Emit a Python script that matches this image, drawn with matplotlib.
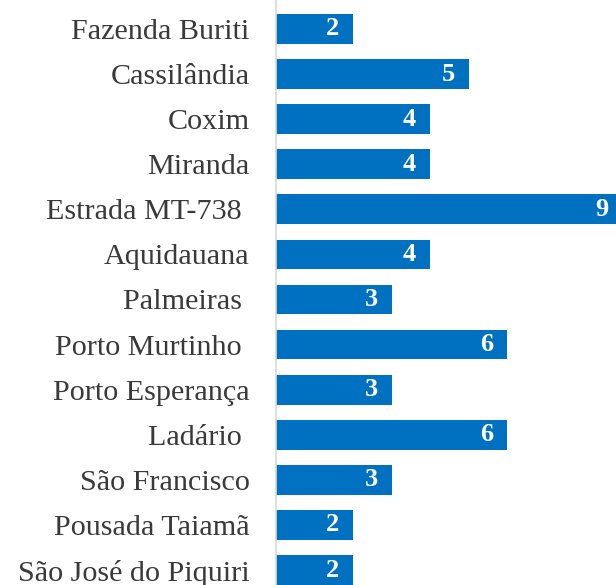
import matplotlib.pyplot as plt

locais = [
    "Fazenda Buriti", "Cassilândia", "Coxim", "Miranda", "Estrada MT-738 ",
    "Aquidauana", "Palmeiras ", "Porto Murtinho ", "Porto Esperança",
    "Ladário ", "São Francisco", "Pousada Taiamã", "São José do Piquiri",
]
valores = [2, 5, 4, 4, 9, 4, 3, 6, 3, 6, 3, 2, 2]

azul = '#0070C0'
cinza = '#3a3a3a'

plt.rcParams['font.family'] = ['Liberation Serif', 'DejaVu Serif']

fig = plt.figure(figsize=(6.16, 5.85), dpi=100)
ax = fig.add_axes([276 / 616, 0, 340 / 616, 1])

pos = list(range(len(locais)))
ax.barh(pos, valores, height=0.66, color=azul)

for p, v in zip(pos, valores):
    ax.annotate(str(v), xy=(v, p), xytext=(-10, 0), textcoords='offset points',
                ha='right', va='center', color='white', fontsize=19,
                fontweight='bold', annotation_clip=False)

ax.set_yticks(pos)
ax.set_yticklabels(locais, fontsize=21.7, color=cinza)
ax.tick_params(axis='y', length=0, pad=19)
ax.set_xticks([])
ax.set_xlim(0, 340 / 38.5)
ax.set_ylim(12 + 15 / 45.1, -29 / 45.1)

for s in ['top', 'right', 'bottom']:
    ax.spines[s].set_visible(False)
ax.spines['left'].set_color('#d9d9d9')
ax.spines['left'].set_linewidth(1.2)

fig.savefig('out.png', dpi=100)
